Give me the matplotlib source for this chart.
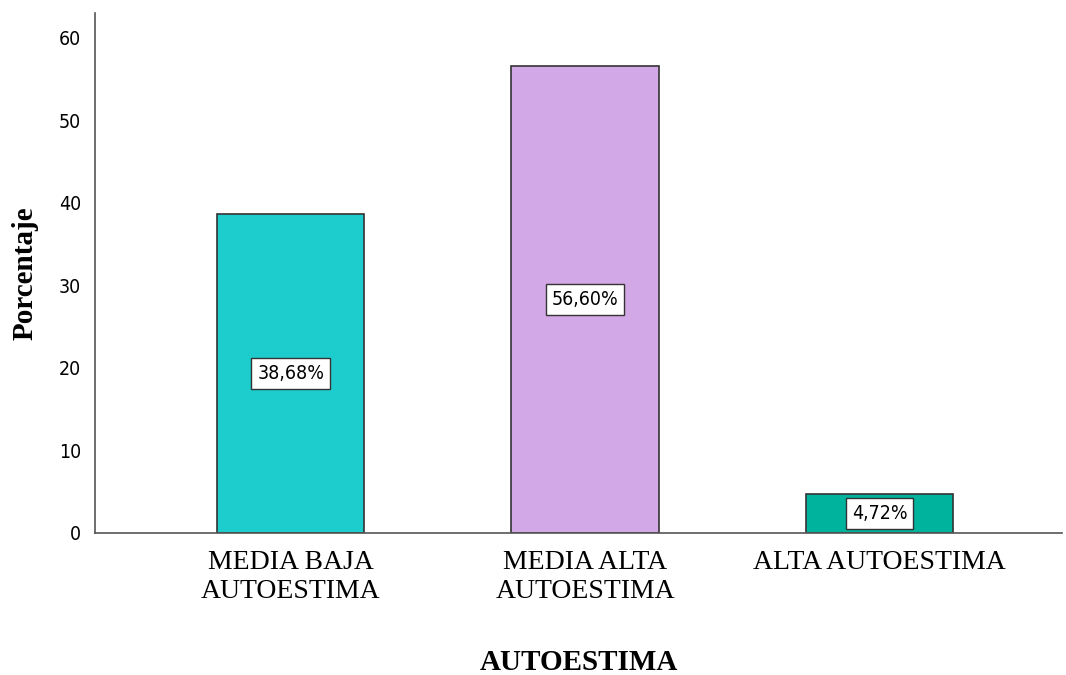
import matplotlib
matplotlib.use("Agg")
import matplotlib.pyplot as plt
import numpy as np

categorias = ["MEDIA BAJA\nAUTOESTIMA", "MEDIA ALTA\nAUTOESTIMA", "ALTA AUTOESTIMA"]
porcentajes = [38.68, 56.60, 4.72]
etiquetas = ["38,68%", "56,60%", "4,72%"]
colores = ["#1dcdcd", "#d2a8e6", "#00b39c"]
yticks = [0, 10, 20, 30, 40, 50, 60]

fig = plt.figure(figsize=(10.66, 6.75), dpi=100)
ax = fig.add_axes([0.0891, 0.2104, 0.9071, 0.7700])

x = np.arange(len(categorias))
ax.bar(x, porcentajes, width=0.5, color=colores, edgecolor="#333333", linewidth=1.2)

for xi, v, t in zip(x, porcentajes, etiquetas):
    ax.text(xi, v / 2, t, ha="center", va="center", fontsize=14,
            family="DejaVu Sans", stretch="condensed",
            bbox=dict(boxstyle="square,pad=0.3", facecolor="white", edgecolor="#333333", linewidth=1))

ax.set_xlim(-0.665, 2.62)
ax.set_ylim(0, 63)
ax.set_yticks(yticks)
ax.set_xticks(x)
ax.set_xticklabels(categorias, fontsize=20, family="Liberation Serif", linespacing=1.25)
ax.tick_params(axis="y", length=0, pad=10, labelsize=14)
ax.tick_params(axis="x", length=0, pad=12)
for lab in ax.get_yticklabels():
    lab.set_family("DejaVu Sans")
    lab.set_stretch("condensed")

for s in ["top", "right"]:
    ax.spines[s].set_visible(False)
for s in ["left", "bottom"]:
    ax.spines[s].set_color("#555555")
    ax.spines[s].set_linewidth(1.2)

ax.set_ylabel("Porcentaje", fontsize=21, fontweight="bold", family="Liberation Serif")
ax.yaxis.set_label_coords(-0.058, 0.5)
ax.set_xlabel("AUTOESTIMA", fontsize=21, fontweight="bold", family="Liberation Serif", labelpad=32)

fig.savefig("out.png", dpi=100)
